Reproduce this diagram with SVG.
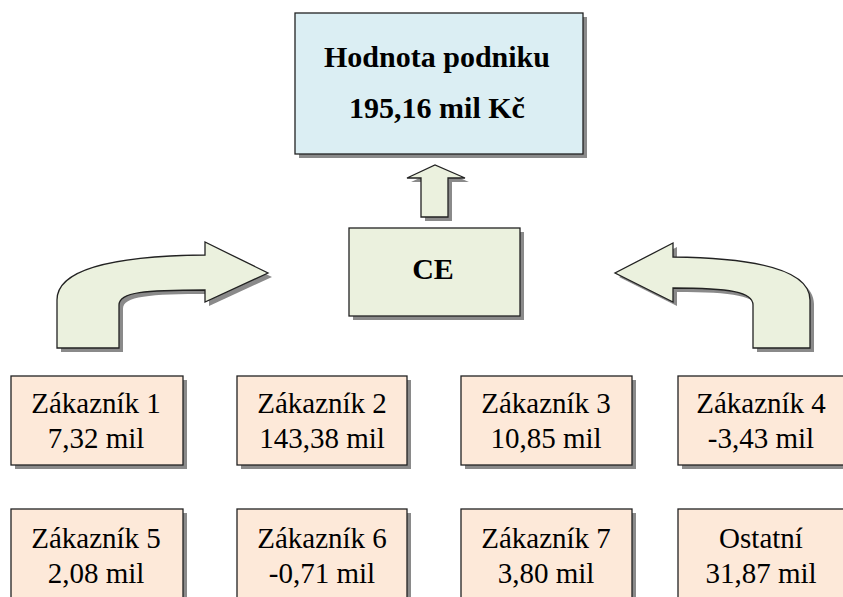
<svg xmlns="http://www.w3.org/2000/svg" width="843" height="597" viewBox="0 0 843 597">
  <defs>
    <style>
      .shadow { fill: #8a8a8a; }
      .edge { stroke: #222; stroke-width: 1.3; }
      .blue { fill: #DBEEF3; }
      .green { fill: #EBF1DE; }
      .peach { fill: #FDE9D9; }
    </style>
  </defs>
  <rect width="843" height="597" fill="#fff"/>

  <g font-family="Liberation Serif, Times New Roman, serif" font-size="29" text-anchor="middle" fill="#000">
  <!-- Company value -->
  <g id="hodnota" font-weight="bold" font-size="30">
    <rect class="shadow" x="299" y="17" width="288" height="141"/>
    <rect class="blue edge" x="295" y="13" width="288" height="141"/>
    <text x="437" y="67">Hodnota podniku</text>
    <text x="437" y="118">195,16 mil Kč</text>
  </g>

  <!-- CE -->
  <g id="ce" font-weight="bold" font-size="30">
    <rect class="shadow" x="353" y="232" width="171" height="88"/>
    <rect class="green edge" x="349" y="228" width="171" height="88"/>
    <text x="433" y="279">CE</text>
  </g>

  <!-- Arrows -->
  <g id="connectors">
    <g transform="translate(4,4)">
      <path class="shadow" d="M421,217 L421,178 L407,178 L435,165 L465,178 L448,178 L448,217 Z"/>
      <path class="shadow" d="M57,348 L57,300 C57,270 112,256 205,255 L205,242 L268,273 L205,302 L205,290 C145,290 119,292 119,305 L119,348 Z"/>
      <path class="shadow" d="M810,348 L810,300 C810,272 762,258 673,257 L673,243 L615,273 L673,302 L673,288 C730,288 753,292 753,305 L753,348 Z"/>
    </g>
    <path class="green edge" d="M421,217 L421,178 L407,178 L435,165 L465,178 L448,178 L448,217 Z"/>
    <path class="green edge" d="M57,348 L57,300 C57,270 112,256 205,255 L205,242 L268,273 L205,302 L205,290 C145,290 119,292 119,305 L119,348 Z"/>
    <path class="green edge" d="M810,348 L810,300 C810,272 762,258 673,257 L673,243 L615,273 L673,302 L673,288 C730,288 753,292 753,305 L753,348 Z"/>
  </g>

  <!-- Customers, row 1 -->
  <g id="zakaznik1">
    <rect class="shadow" x="15" y="380" width="172" height="89"/>
    <rect class="peach edge" x="11" y="376" width="172" height="89"/>
    <text x="96" y="413">Zákazník 1</text>
    <text x="96" y="448">7,32 mil</text>
  </g>
  <g id="zakaznik2">
    <rect class="shadow" x="241" y="380" width="170" height="89"/>
    <rect class="peach edge" x="237" y="376" width="170" height="89"/>
    <text x="322" y="413">Zákazník 2</text>
    <text x="322" y="448">143,38 mil</text>
  </g>
  <g id="zakaznik3">
    <rect class="shadow" x="465" y="380" width="171" height="89"/>
    <rect class="peach edge" x="461" y="376" width="171" height="89"/>
    <text x="546" y="413">Zákazník 3</text>
    <text x="546" y="448">10,85 mil</text>
  </g>
  <g id="zakaznik4">
    <rect class="shadow" x="682" y="380" width="171" height="89"/>
    <rect class="peach edge" x="678" y="376" width="171" height="89"/>
    <text x="761" y="413">Zákazník 4</text>
    <text x="761" y="448">-3,43 mil</text>
  </g>

  <!-- Customers, row 2 -->
  <g id="zakaznik5">
    <rect class="shadow" x="15" y="513" width="172" height="95"/>
    <rect class="peach edge" x="11" y="509" width="172" height="95"/>
    <text x="96" y="548">Zákazník 5</text>
    <text x="96" y="583">2,08 mil</text>
  </g>
  <g id="zakaznik6">
    <rect class="shadow" x="241" y="513" width="170" height="95"/>
    <rect class="peach edge" x="237" y="509" width="170" height="95"/>
    <text x="322" y="548">Zákazník 6</text>
    <text x="322" y="583">-0,71 mil</text>
  </g>
  <g id="zakaznik7">
    <rect class="shadow" x="465" y="513" width="171" height="95"/>
    <rect class="peach edge" x="461" y="509" width="171" height="95"/>
    <text x="546" y="548">Zákazník 7</text>
    <text x="546" y="583">3,80 mil</text>
  </g>
  <g id="ostatni">
    <rect class="shadow" x="682" y="513" width="171" height="95"/>
    <rect class="peach edge" x="678" y="509" width="171" height="95"/>
    <text x="761" y="548">Ostatní</text>
    <text x="761" y="583">31,87 mil</text>
  </g>
  </g>
</svg>
